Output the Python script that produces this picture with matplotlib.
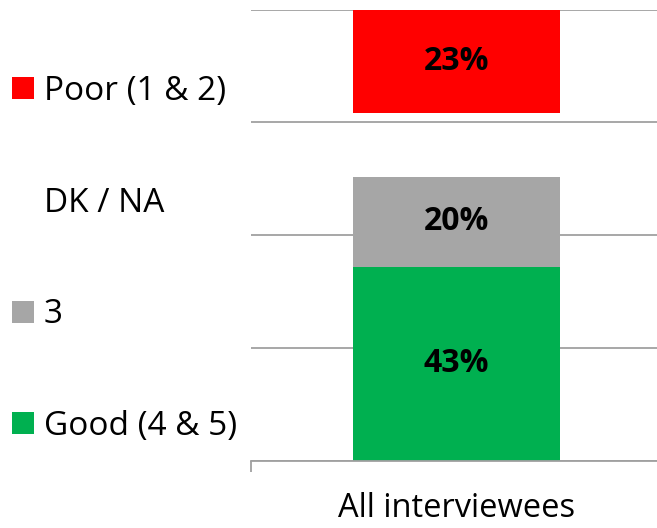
import matplotlib
matplotlib.use("Agg")
import matplotlib.pyplot as plt

plt.rcParams["font.family"] = ["Open Sans", "DejaVu Sans"]

# Data
category = ["All interviewees"]
series = ["Good (4 & 5)", "3", "DK / NA", "Poor (1 & 2)"]
values = [43, 20, 14, 23]
labels = ["43%", "20%", "", "23%"]
colors = ["#00B050", "#A6A6A6", "none", "#FF0000"]

fig = plt.figure(figsize=(6.57, 5.28), dpi=100)
ax = fig.add_axes([251 / 657, (528 - 461) / 528, 411 / 657, 451.5 / 528])

bottom = 0
handles = []
for name, val, lab, col in zip(series, values, labels, colors):
    bars = ax.bar(category, [val], bottom=bottom, width=0.504, color=col,
                  label=name, zorder=2)
    if lab:
        ax.bar_label(bars, labels=[lab], label_type="center",
                     fontsize=23, fontweight="bold", color="black")
    handles.append(bars)
    bottom += val

ax.set_xlim(-0.5, 0.5)
ax.set_ylim(0, 100)
ax.set_yticks([0, 25, 50, 75, 100])
ax.set_yticklabels([])
ax.tick_params(axis="y", length=0)
ax.grid(axis="y", color="#A0A0A0", linewidth=1.3, zorder=0)
ax.set_axisbelow(True)

for side in ["left", "top", "right"]:
    ax.spines[side].set_visible(False)
ax.spines["bottom"].set_color("#A0A0A0")
ax.spines["bottom"].set_linewidth(1.3)

# x axis: one tick mark at the left boundary, label under the bar
ax.set_xticks([0])
ax.set_xticklabels(category, fontsize=23.5)
ax.tick_params(axis="x", length=0, pad=22)
ax.set_xticks([-0.5], minor=True)
ax.tick_params(axis="x", which="minor", length=8, width=1.3, color="#A0A0A0")

leg = fig.legend(handles[::-1], series[::-1], loc="upper left",
                 bbox_to_anchor=(12 / 657, 1 - 75 / 528), frameon=False,
                 fontsize=24, handlelength=0.65, handleheight=0.65,
                 handletextpad=0.3, labelspacing=2.36, borderpad=0,
                 borderaxespad=0)

plt.savefig("out.png", dpi=100)
